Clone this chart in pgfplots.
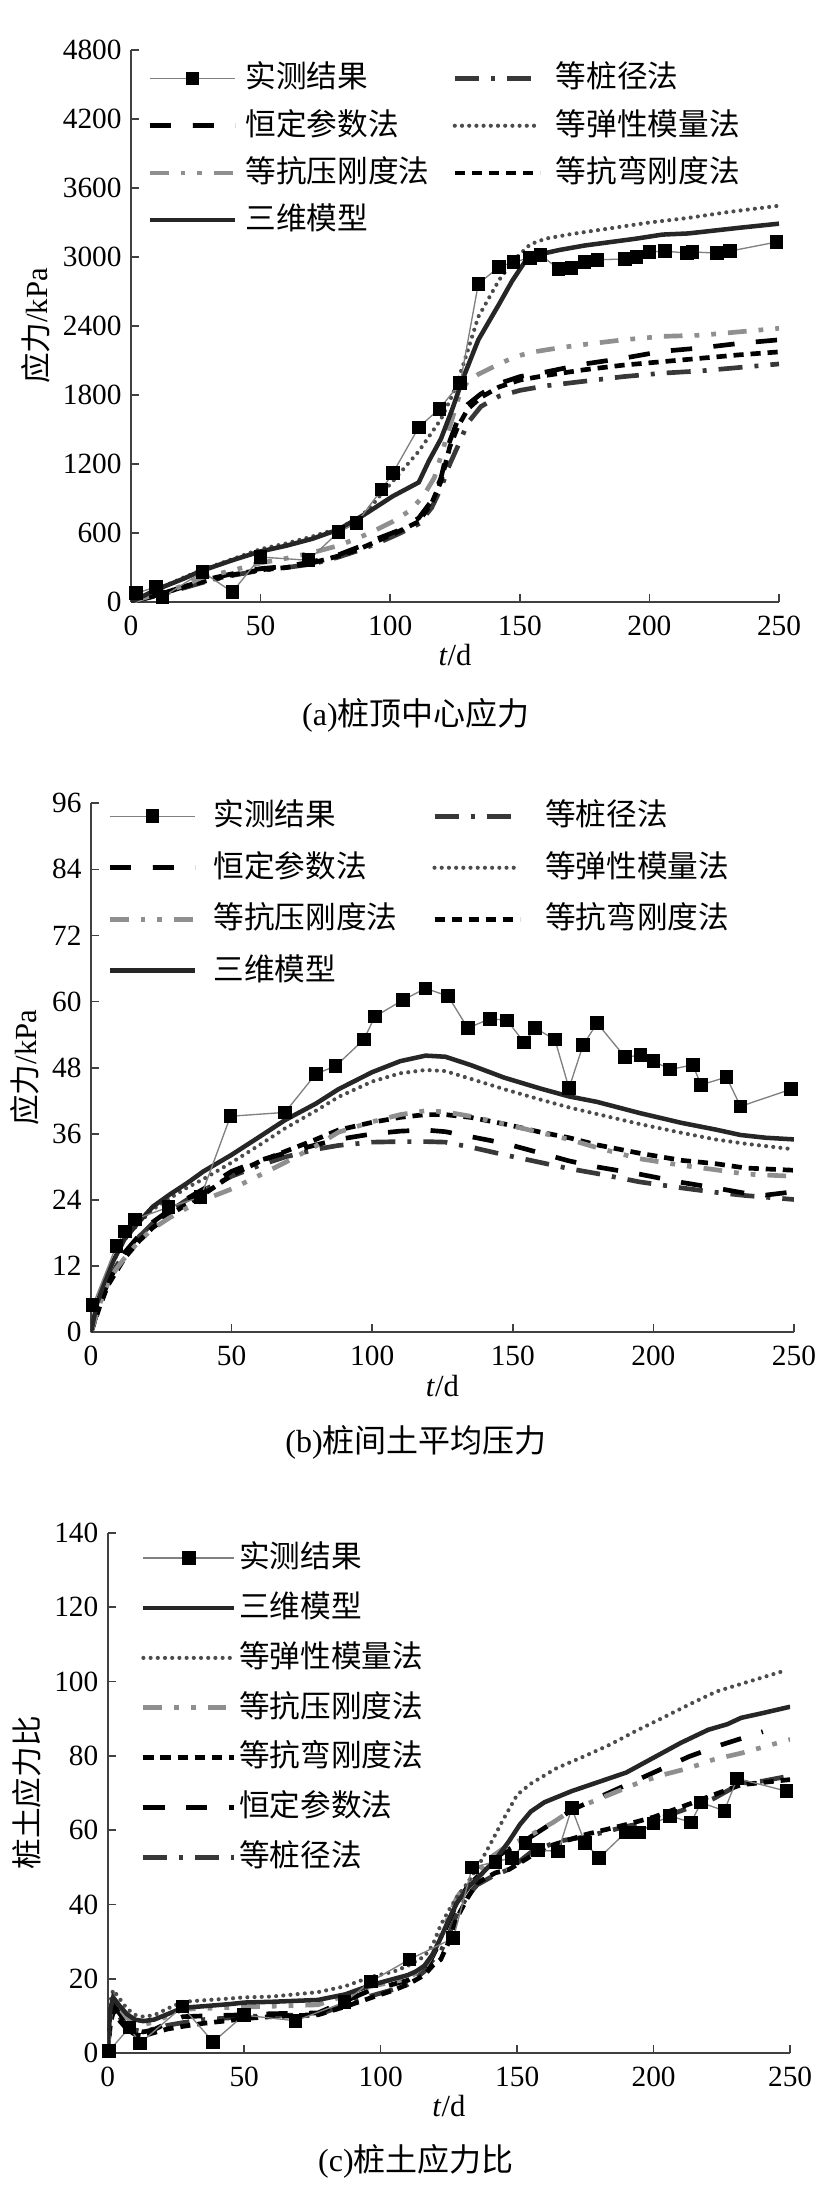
\documentclass[border=0pt]{standalone}
\usepackage{fontspec}
\setmainfont{Liberation Serif}
\newfontfamily\cjk{Noto Sans CJK SC}
\usepackage{pgfplots}
\pgfplotsset{compat=1.18}
\definecolor{cdzj}{gray}{0.22}
\definecolor{cdtx}{gray}{0.30}
\definecolor{cdky}{gray}{0.56}
\definecolor{csw}{gray}{0.15}
\definecolor{cax}{gray}{0.25}
\definecolor{cmeas}{gray}{0.5}
\newcommand\lf{\fontsize{11.5}{13}\selectfont}
\newcommand\tf{\fontsize{11}{12}\selectfont}
\pgfplotsset{
  meas/.style={cmeas, line width=0.5pt, mark=square*, mark size=2.3pt, mark options={solid, fill=black, draw=black}},
  dzj/.style={cdzj, line width=1.75pt, dash pattern=on 9pt off 4.5pt on 1.5pt off 4.5pt},
  hd/.style={black, line width=1.75pt, dash pattern=on 8pt off 8pt},
  dtx/.style={cdtx, line width=1.55pt, line cap=round, dash pattern=on 0pt off 2.7pt},
  dky/.style={cdky, line width=1.75pt, dash pattern=on 7pt off 4.5pt on 1.8pt off 4.5pt on 1.8pt off 4.5pt},
  dkw/.style={black, line width=1.75pt, dash pattern=on 3.8pt off 2.6pt},
  sw/.style={csw, line width=1.7pt},
  common/.style={
    scale only axis, axis x line=bottom, axis y line=left,
    axis line style={-, cax, line width=0.6pt},
    tick align=inside, major tick length=3pt, tick style={cax, line width=0.6pt},
    xmin=0, xmax=250, xtick={0,50,...,250},
    ticklabel style={font=\tf},
    /pgf/number format/assume math mode=true,
    /pgf/number format/set thousands separator={},
    xticklabel style={yshift=-1.6pt},
    xlabel={\textit{t}/d},
    every axis x label/.style={at={([yshift=-20pt]axis description cs:0.5,0)}, anchor=center, font=\lf},
    legend image code/.code={\draw[mark repeat=2,mark phase=2,##1] plot coordinates {(0pt,0pt) (16pt,0pt) (32pt,0pt)};},
    legend cell align=left,
    legend style={draw=none, fill=none, at={(0,1)}, anchor=north west, font=\lf, inner sep=0pt,
      nodes={inner sep=0pt, text height=9pt, text depth=2pt}},
  },
}
\begin{document}
\begin{tikzpicture}
\path[use as bounding box] (0,0) rectangle (312pt,-828pt);
% ---------------- (a)
\begin{axis}[common, at={(49.125pt,-225.75pt)}, anchor=south west, width=243pt, height=207pt,
  ymin=0, ymax=4800, ytick={0,600,...,4800},
  ylabel={{\cjk 应力}/kPa},
  every axis y label/.style={at={([xshift=-35.8pt]axis description cs:0,0.5)}, rotate=90, anchor=center, font=\lf},
  legend columns=2,
  legend style={xshift=6pt, yshift=-5pt, row sep=6.7pt,
    /tikz/column 1/.style={column sep=3pt}, /tikz/column 2/.style={column sep=8.6pt}, /tikz/column 3/.style={column sep=5pt}},
]
\addlegendimage{meas}\addlegendentry{\cjk 实测结果}
\addlegendimage{dzj}\addlegendentry{\cjk 等桩径法}
\addlegendimage{hd}\addlegendentry{\cjk 恒定参数法}
\addlegendimage{dtx}\addlegendentry{\cjk 等弹性模量法}
\addlegendimage{dky}\addlegendentry{\cjk 等抗压刚度法}
\addlegendimage{dkw}\addlegendentry{\cjk 等抗弯刚度法}
\addlegendimage{sw}\addlegendentry{\cjk 三维模型}
\addplot[dzj, forget plot] coordinates {(0,0) (10,55) (20,120) (30,185) (40,235) (50,275) (60,300) (70,330) (80,390) (88,450) (95,510) (103,590) (111,680) (116,820) (119.6,990) (123,1200) (126,1350) (130,1560) (135,1700) (142,1790) (150,1840) (160,1880) (175,1920) (190,1960) (205,1990) (220,2010) (235,2040) (250,2070)};
\addplot[hd, forget plot] coordinates {(0,0) (10,60) (20,130) (30,200) (40,250) (50,290) (60,310) (70,350) (80,410) (88,480) (95,550) (103,620) (111,730) (116,880) (119.6,1080) (123,1400) (126,1580) (130,1720) (135,1810) (142,1900) (150,1960) (160,2000) (175,2070) (190,2120) (205,2180) (220,2210) (235,2250) (250,2280)};
\addplot[dkw, forget plot] coordinates {(0,0) (10,60) (20,130) (30,190) (40,240) (50,280) (60,300) (70,340) (80,400) (88,460) (95,530) (103,610) (111,700) (116,860) (119.6,1050) (123,1350) (126,1520) (130,1680) (135,1780) (142,1870) (150,1930) (160,1970) (175,2020) (190,2060) (205,2090) (220,2120) (235,2150) (250,2175)};
\addplot[dky, forget plot] coordinates {(0,0) (10,70) (20,140) (27,210) (40,280) (50,340) (60,380) (70,430) (80,490) (88,560) (93,610) (101,700) (108,800) (113,930) (117,1080) (120,1300) (124,1600) (127,1820) (130,1920) (134,1980) (142,2070) (148,2130) (154,2170) (165,2210) (175,2240) (190,2280) (205,2310) (220,2320) (235,2350) (250,2380)};
\addplot[dtx, forget plot] coordinates {(0,0) (10,110) (20,210) (27,275) (40,380) (50,460) (60,510) (70,570) (80,640) (88,730) (93,840) (97,950) (101,1050) (106,1180) (111,1310) (119.6,1590) (124,1800) (128,2050) (134,2480) (142,2800) (148,2980) (154,3110) (160,3160) (170,3200) (185,3250) (200,3300) (215,3340) (230,3390) (250,3446)};
\addplot[sw, forget plot] coordinates {(0,0) (10,110) (20,200) (27,270) (40,370) (50,440) (60,490) (70,550) (80,630) (90,760) (101,920) (111,1040) (115,1230) (119.6,1420) (124,1680) (128,1940) (134,2280) (142,2590) (147,2790) (152,2960) (157,3020) (165,3060) (175,3100) (185,3130) (195,3160) (205,3195) (215,3205) (225,3230) (235,3255) (250,3290)};
\addplot[meas, forget plot] coordinates {(1.9,76) (9.6,130) (12.2,43) (27.6,261) (39.1,87) (50,391) (68.5,363) (80,607) (87,686) (96.7,977) (101,1121) (111,1519) (119,1680) (127,1903) (134,2767) (142,2914) (147.6,2955) (154,2993) (158,3017) (165,2897) (170,2904) (175,2955) (180,2976) (190.5,2983) (195,3000) (200,3044) (206,3051) (214.6,3034) (216.7,3044) (226,3034) (231,3051) (249,3130)};
\end{axis}
% ---------------- (b)
\begin{axis}[common, at={(34.125pt,-499.6pt)}, anchor=south west, width=263.6pt, height=198.4pt,
  ymin=0, ymax=96, ytick={0,12,...,96},
  ylabel={{\cjk 应力}/kPa},
  every axis y label/.style={at={([xshift=-25pt]axis description cs:0,0.5)}, rotate=90, anchor=center, font=\lf},
  legend columns=2,
  legend style={xshift=6pt, yshift=0.8pt, row sep=8.3pt,
    /tikz/column 1/.style={column sep=6pt}, /tikz/column 2/.style={column sep=13pt}, /tikz/column 3/.style={column sep=8.6pt}},
]
\addlegendimage{meas}\addlegendentry{\cjk 实测结果}
\addlegendimage{dzj}\addlegendentry{\cjk 等桩径法}
\addlegendimage{hd}\addlegendentry{\cjk 恒定参数法}
\addlegendimage{dtx}\addlegendentry{\cjk 等弹性模量法}
\addlegendimage{dky}\addlegendentry{\cjk 等抗压刚度法}
\addlegendimage{dkw}\addlegendentry{\cjk 等抗弯刚度法}
\addlegendimage{sw}\addlegendentry{\cjk 三维模型}
\addplot[dzj, forget plot] coordinates {(0,0) (3,5) (6,9) (9,12) (12,14.3) (17,17.3) (22,19.8) (28,22) (34,24) (40,25.8) (50,28.3) (60,30.3) (69,31.8) (80,33.2) (88,33.9) (100,34.5) (110,34.6) (119,34.6) (126,34.5) (135,33.6) (147,32.2) (160,30.8) (170,29.7) (180,28.8) (195,27.3) (210,26.2) (222,25.4) (233,24.8) (250,24.1)};
\addplot[hd, forget plot] coordinates {(0,0) (3,5) (6,9) (9,12) (12,14.5) (17,17.5) (22,20) (28,22.2) (34,24.2) (40,26) (50,29.2) (60,31.2) (69,32.5) (80,34) (88,35) (100,36) (110,36.5) (119,36.7) (126,36.4) (135,35.5) (147,34.3) (160,32.5) (170,31.1) (180,30) (195,28.7) (210,27.2) (222,26.2) (233,25.2) (240,24.9) (250,25.5)};
\addplot[dkw, forget plot] coordinates {(0,0) (3,4.5) (6,8.5) (9,11) (12,13.5) (17,16.5) (22,19) (28,21.3) (34,23.2) (40,25) (50,28.5) (60,31) (69,32.8) (80,35) (88,36.7) (100,38.1) (110,39) (119,39.5) (126,39.5) (135,39) (147,37.8) (160,36.3) (170,35.3) (180,34) (195,32.5) (210,31.2) (222,30.6) (233,29.8) (250,29.4)};
\addplot[dky, forget plot] coordinates {(0,0) (3,5) (6,9) (9,11.5) (12,13.5) (17,16.5) (22,18.8) (28,20.8) (34,22.5) (40,24) (50,26) (60,28.5) (69,30.8) (80,33.8) (88,36.3) (100,38.2) (110,39.5) (119,40.2) (126,40) (135,39.2) (147,37.8) (160,36.2) (170,35) (180,33.5) (195,31.5) (210,30.3) (222,29.5) (233,28.7) (250,28.3)};
\addplot[dtx, forget plot] coordinates {(0,0) (2,5) (5,9.5) (8,13) (12,16.8) (17,19.8) (22,22.3) (28,24.3) (34,26.2) (40,27.8) (50,30.8) (60,34) (69,37) (80,40.2) (88,42.7) (100,45.5) (110,47) (119,47.6) (126,47.4) (135,46) (147,44.1) (160,42.2) (170,40.8) (180,39.6) (195,37.8) (210,36.2) (222,35) (233,34.2) (250,33.2)};
\addplot[sw, forget plot] coordinates {(0,0) (2,5) (5,9.5) (8,13) (12,17) (17,20) (22,22.8) (28,25) (34,27) (40,29.2) (50,32.2) (60,35.5) (69,38.5) (80,41.5) (88,44.1) (100,47.2) (110,49.2) (119,50.2) (126,50) (135,48.5) (147,46.2) (160,44.2) (170,42.8) (180,41.8) (195,39.8) (210,38) (222,36.8) (231,35.8) (240,35.3) (250,35)};
\addplot[meas, forget plot] coordinates {(0.6,4.9) (9,15.7) (12,18.3) (15.6,20.5) (27.6,22.7) (39,24.5) (49.6,39.2) (69,39.9) (80,46.9) (87,48.3) (97,53.1) (101,57.3) (111,60.3) (119,62.4) (127,61.0) (134,55.2) (142,56.9) (148,56.6) (154,52.6) (158,55.2) (165,53.1) (170,44.3) (175,52.1) (180,56.1) (190,49.9) (195.4,50.3) (200,49.2) (206,47.7) (214,48.5) (217,44.9) (226,46.3) (231,41.0) (249,44.1)};
\end{axis}
% ---------------- (c)
\begin{axis}[common, at={(40.4pt,-769.9pt)}, anchor=south west, width=255.9pt, height=195.1pt,
  ymin=0, ymax=140, ytick={0,20,...,140},
  ylabel={\cjk 桩土应力比},
  every axis y label/.style={at={([xshift=-30.4pt]axis description cs:0,0.5)}, rotate=90, anchor=center, font=\lf},
  legend columns=1,
  legend image code/.code={\draw[mark repeat=2,mark phase=2,#1] plot coordinates {(0pt,0pt) (17pt,0pt) (34pt,0pt)};},
  legend style={xshift=12.3pt, yshift=-3.8pt, row sep=7.7pt, /tikz/column 1/.style={column sep=1pt}},
]
\addlegendimage{meas}\addlegendentry{\cjk 实测结果}
\addlegendimage{sw}\addlegendentry{\cjk 三维模型}
\addlegendimage{dtx}\addlegendentry{\cjk 等弹性模量法}
\addlegendimage{dky}\addlegendentry{\cjk 等抗压刚度法}
\addlegendimage{dkw}\addlegendentry{\cjk 等抗弯刚度法}
\addlegendimage{hd}\addlegendentry{\cjk 恒定参数法}
\addlegendimage{dzj}\addlegendentry{\cjk 等桩径法}
\addplot[dzj, forget plot] coordinates {(0,1) (1,9) (2,12) (4,10) (7,7.5) (10,6.2) (13,5.8) (17,6.5) (22,7.5) (27.6,8.2) (35,9) (45,9.5) (50,9.8) (60,10.1) (77,10.3) (87,13) (96.5,15.4) (105,17.2) (110,18.5) (116,22) (119,25) (122,27.3) (125,32) (128,37.6) (132,42.5) (135.4,45.3) (142,48) (147,49.4) (155,54) (165,57) (175,58.2) (190,61) (200,62.5) (213,66) (222,68.5) (232,72.6) (240,73.2) (250,74.6)};
\addplot[hd, forget plot] coordinates {(0,1) (1,10) (2,13) (4,11) (7,8) (10,6.2) (13,5.7) (17,6.3) (22,8.2) (27.6,9.8) (35,10) (45,10.2) (50,10.3) (60,10.6) (77,10.8) (87,14) (96.5,17) (105,18.6) (110,19.6) (116,22) (119,26) (122,30.4) (125,35.5) (128,40.5) (132,45) (135.4,47.4) (140,51.5) (145,54) (155,58.2) (163,62) (170,65.4) (182,69.5) (194,73.5) (203,76.5) (213,79.8) (225,83) (240,86.5)};
\addplot[dkw, forget plot] coordinates {(0,0) (1,8) (2,11) (4,9) (7,6.5) (10,5) (13,4.6) (17,5.5) (22,6.5) (27.6,7.2) (35,8) (45,8.8) (50,9.3) (60,9.8) (77,10.3) (87,12.5) (96.5,14.9) (105,17) (110,18.5) (116,21) (119,23.5) (122,25.2) (125,30) (128,36.5) (132,42) (135.4,45.8) (142,48.5) (147,49.4) (155,53) (163,56) (175,58.8) (190,61.5) (200,63.5) (213,67) (222,69.5) (232,72.2) (250,73.6)};
\addplot[dky, forget plot] coordinates {(0,1) (1,11) (2,14.5) (4,12.5) (7,9.5) (10,8) (13,7.7) (17,8.3) (22,10) (27.6,11.8) (35,12) (45,12.3) (50,12.4) (60,12.6) (77,13) (87,15.5) (96.5,18) (105,19.2) (110,20.1) (116,23) (119,26.5) (122,31.4) (125,37) (128,42) (132,46) (135.4,48.4) (140,52.5) (145,55.1) (155,58.7) (163,62) (170,65.4) (182,69) (194,72.6) (203,74.8) (213,76.7) (222,79) (232.6,80.8) (250,84.4)};
\addplot[dtx, forget plot] coordinates {(0,3) (1,14) (2,17) (4,15) (7,12) (10,10.3) (13,9.8) (17,10.2) (22,12) (27.6,13.8) (35,14.2) (45,14.7) (50,15) (60,15.2) (77,16.4) (87,18) (96.5,20.5) (105,22) (110,23.5) (116,26) (119,29) (122,34.5) (125,38.5) (128,42) (132,46) (135.4,49.9) (140,56) (145,63) (150,69.5) (155,72.5) (164.5,76.7) (175,80) (184,83) (193,86.5) (203,90.1) (213,93.8) (223,97.3) (235,100) (248,102.9)};
\addplot[sw, forget plot] coordinates {(0,2) (1,12) (2,15) (4,13) (7,10.5) (10,9) (13,8.6) (17,9) (22,10.5) (27.6,12.2) (35,12.6) (45,13.2) (50,13.6) (60,13.8) (77,14.3) (87,15.8) (96.5,18.3) (105,20) (110,21) (113,22) (116,23.5) (119,26.5) (122,31) (125,36) (128,40.5) (132,44.5) (135.4,47) (140,50.5) (143,53) (147,57) (151,61.5) (155,65) (160,67.5) (170,70.5) (180,73) (190,75.5) (200,79.5) (210,83.5) (220,87) (227,88.5) (232,90.2) (240,91.5) (250,93.2)};
\addplot[meas, forget plot] coordinates {(0.4,0.5) (8,6.9) (11.8,2.6) (27.4,12.5) (38.6,3.0) (49.9,10.2) (68.8,8.7) (86.8,13.7) (96.5,19.3) (110.5,25.2) (126.6,30.9) (133.5,49.9) (142,51.5) (148,52.5) (153,56.6) (157.7,54.6) (165,54.3) (170,65.9) (174.8,56.6) (180,52.5) (189.8,59.4) (194.6,59.4) (200,61.8) (206,63.8) (213.7,62.1) (217.4,67.4) (225.9,65.2) (230.6,73.9) (248.6,70.5)};
\end{axis}
% captions
\node[font=\fontsize{12}{14}\selectfont] at (156pt,-268.1pt) {(a){\cjk 桩顶中心应力}};
\node[font=\fontsize{12}{14}\selectfont] at (156pt,-540.75pt) {(b){\cjk 桩间土平均压力}};
\node[font=\fontsize{12}{14}\selectfont] at (156pt,-810.5pt) {(c){\cjk 桩土应力比}};
\end{tikzpicture}
\end{document}
